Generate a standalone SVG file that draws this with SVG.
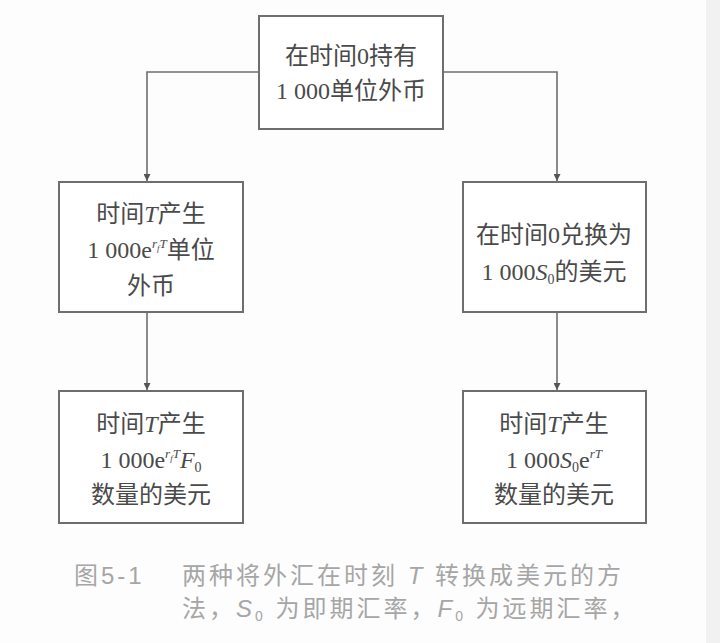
<svg xmlns="http://www.w3.org/2000/svg" width="720" height="643" viewBox="0 0 720 643">
<style>
.box{fill:#ffffff;stroke:#6e6e6e;stroke-width:2}
.t{font-family:"Liberation Serif","Noto Sans CJK SC",serif;font-size:24px;fill:#4a4a4a;text-anchor:middle}
.i{font-style:italic}
.cap{font-family:"Liberation Sans","Noto Sans CJK SC",sans-serif;font-size:24px;fill:#a6a6a6;letter-spacing:3px}
.edge{fill:none;stroke:#6e6e6e;stroke-width:1.6}
</style>
<defs>
<marker id="arr" viewBox="0 0 10 10" refX="10" refY="5" markerWidth="7" markerHeight="7" markerUnits="userSpaceOnUse" orient="auto">
<path d="M0,0 L10,5 L0,10 z" fill="#555"/>
</marker>
</defs>
<rect x="0" y="0" width="720" height="643" fill="#fdfdfd"/>
<rect x="706" y="0" width="14" height="643" fill="#f1f1f1"/>
<g id="edges">
<path class="edge" d="M259,72 H147 V181" marker-end="url(#arr)"/>
<path class="edge" d="M443,72 H557 V181" marker-end="url(#arr)"/>
<path class="edge" d="M147,312 V390" marker-end="url(#arr)"/>
<path class="edge" d="M557,312 V390" marker-end="url(#arr)"/>
</g>
<g id="start">
<rect class="box" x="259" y="16" width="184" height="113"/>
<text class="t" x="351" y="64">在时间0持有</text>
<text class="t" x="351" y="99">1 000单位外币</text>
</g>
<g id="leftMid">
<rect class="box" x="59" y="182" width="184" height="130"/>
<text class="t" x="151" y="222">时间<tspan class="i">T</tspan>产生</text>
<text class="t" x="151" y="258">1 000e<tspan class="i" font-size="13" dy="-10">r</tspan><tspan class="i" font-size="9" dy="3">f</tspan><tspan class="i" font-size="13" dy="-3">T</tspan><tspan dy="10">单位</tspan></text>
<text class="t" x="151" y="294">外币</text>
</g>
<g id="rightMid">
<rect class="box" x="463" y="182" width="183" height="130"/>
<text class="t" x="554" y="243">在时间0兑换为</text>
<text class="t" x="554" y="280">1 000<tspan class="i">S</tspan><tspan font-size="14" dy="4">0</tspan><tspan dy="-4">的美元</tspan></text>
</g>
<g id="leftBottom">
<rect class="box" x="59" y="391" width="184" height="132"/>
<text class="t" x="151" y="432">时间<tspan class="i">T</tspan>产生</text>
<text class="t" x="151" y="468">1 000e<tspan class="i" font-size="13" dy="-10">r</tspan><tspan class="i" font-size="9" dy="3">f</tspan><tspan class="i" font-size="13" dy="-3">T</tspan><tspan class="i" dy="10">F</tspan><tspan font-size="14" dy="4">0</tspan></text>
<text class="t" x="151" y="503">数量的美元</text>
</g>
<g id="rightBottom">
<rect class="box" x="463" y="391" width="183" height="132"/>
<text class="t" x="554" y="432">时间<tspan class="i">T</tspan>产生</text>
<text class="t" x="554" y="468">1 000<tspan class="i">S</tspan><tspan font-size="14" dy="4">0</tspan><tspan dy="-4">e</tspan><tspan class="i" font-size="13" dy="-10">rT</tspan></text>
<text class="t" x="554" y="503">数量的美元</text>
</g>
<g id="caption">
<text class="cap" x="74" y="584" letter-spacing="2">图5-1</text>
<text class="cap" x="182" y="584">两种将外汇在时刻 <tspan font-style="italic">T</tspan> 转换成美元的方</text>
<text class="cap" x="182" y="617" letter-spacing="2">法，<tspan font-style="italic">S</tspan><tspan font-size="14" dy="4">0</tspan><tspan dy="-4"> 为即期汇率，</tspan><tspan font-style="italic">F</tspan><tspan font-size="14" dy="4">0</tspan><tspan dy="-4"> 为远期汇率，</tspan></text>
</g>
</svg>
